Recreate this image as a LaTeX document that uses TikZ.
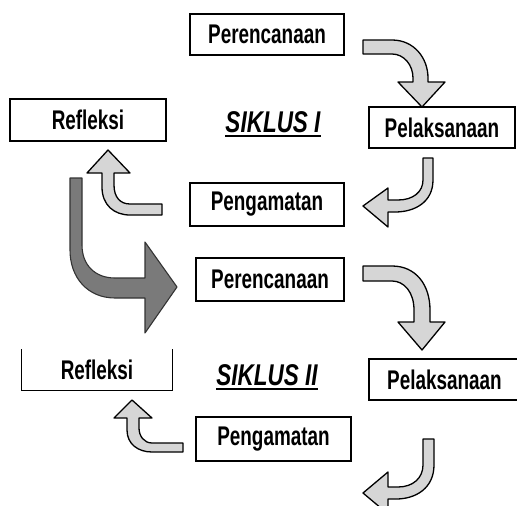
\documentclass[tikz,border=0pt]{standalone}
\usepackage{fontspec}
\newfontfamily\lblfont{Liberation Sans}[FakeStretch=0.7]
\newfontfamily\sikfont{Liberation Sans}[FakeStretch=0.75]
\begin{document}
\begin{tikzpicture}[x=1pt,y=-1pt,
  box/.style={draw=black,line width=1.4pt,rectangle,inner sep=0pt,
    font=\lblfont\bfseries\fontsize{27}{27}\selectfont},
  siklus/.style={inner sep=0pt,font=\sikfont\bfseries\itshape\fontsize{30}{30}\selectfont},
  lightarrow/.style={draw=black,line width=1.3pt,fill=black!16,line join=round},
  darkarrow/.style={draw=black!80,line width=1.1pt,fill=black!52,line join=round}]
\useasboundingbox (0,0) rectangle (517,506);
\fill[white] (0,0) rectangle (517,506);

% boxes
\node[box,minimum width=154pt,minimum height=41pt] (p1) at (267,34.5) {Perencanaan};
\node[box,minimum width=146pt,minimum height=41pt] (l1) at (442,127.5) {Pelaksanaan};
\node[box,minimum width=156pt,minimum height=42pt] (r1) at (88,120) {Refleksi};
\node[box,minimum width=154pt,minimum height=43pt] (g1) at (267,204.5) {Pengamatan};
\node[box,minimum width=148pt,minimum height=43pt] (p2) at (270,279.5) {Perencanaan};
\node[box,draw=none,minimum width=150pt,minimum height=40pt] (r2) at (97,370) {Refleksi};
\draw[line width=1.4pt] (r2.north west) -- (r2.south west) -- (r2.south east) -- (r2.north east);
\node[box,minimum width=151pt,minimum height=41pt] (l2) at (444.5,379.5) {Pelaksanaan};
\node[box,minimum width=155pt,minimum height=44pt] (g2) at (273.5,439) {Pengamatan};

% titles
\node[siklus,anchor=base] (s1) at (273,132) {SIKLUS I};
\draw[line width=1.8pt] ([yshift=-4pt]s1.base west) -- ([yshift=-4pt]s1.base east);
\node[siklus,anchor=base] (s2) at (267,385) {SIKLUS II};
\draw[line width=1.8pt] ([yshift=-4pt]s2.base west) -- ([yshift=-4pt]s2.base east);

% block arrows
% Perencanaan 1 -> Pelaksanaan 1
\draw[lightarrow] (363,40) -- (392,40) .. controls (414,40) and (428,58) .. (428,78) -- (428,82) -- (445,82) -- (422,107) -- (398,82) -- (413,82) -- (413,78) .. controls (413,65) and (404,54) .. (392,54) -- (363,54) -- cycle;
% Pelaksanaan 1 -> Pengamatan 1
\draw[lightarrow] (423,158) -- (433,158) -- (433,180) .. controls (433,202) and (415,212) .. (395,212) -- (388,212) -- (388,227) -- (363,206) -- (388,188) -- (388,200) -- (398,200) .. controls (413,200) and (423,192) .. (423,180) -- cycle;
% Pengamatan 1 -> Refleksi 1
\draw[lightarrow] (162,204) -- (130,204) .. controls (120,204) and (114,197) .. (114,185) -- (114,173) -- (130,173) -- (108,150) -- (87,173) -- (102,173) -- (102,187) .. controls (102,205) and (114,215) .. (130,215) -- (162,215) -- cycle;
% Refleksi 1 -> Perencanaan 2 (dark)
\draw[darkarrow] (70,178) -- (82,178) -- (82,245) .. controls (82,265) and (95,278) .. (115,278) -- (145,278) -- (145,242) -- (177,287) -- (145,333) -- (145,298) -- (115,298) .. controls (88,298) and (70,278) .. (70,250) -- cycle;
% Perencanaan 2 -> Pelaksanaan 2
\draw[lightarrow] (363,266) -- (392,266) .. controls (416,266) and (430,285) .. (430,310) -- (430,322) -- (445,322) -- (422,350) -- (398,322) -- (414,322) -- (414,310) .. controls (414,292) and (404,281) .. (392,281) -- (363,281) -- cycle;
% Pengamatan 2 -> Refleksi 2
\draw[lightarrow] (183,443) -- (152,443) .. controls (144,443) and (139,436) .. (139,428) -- (139,418) -- (152,418) -- (132,400) -- (114,418) -- (127,418) -- (127,430) .. controls (127,444) and (138,452) .. (152,452) -- (183,452) -- cycle;
% Pelaksanaan 2 -> next
\draw[lightarrow] (423,439) -- (434,439) -- (434,465) .. controls (434,488) and (416,499) .. (396,499) -- (388,499) -- (388,514) -- (363,493) -- (388,472) -- (388,487) -- (398,487) .. controls (413,487) and (423,478) .. (423,465) -- cycle;
\end{tikzpicture}
\end{document}
